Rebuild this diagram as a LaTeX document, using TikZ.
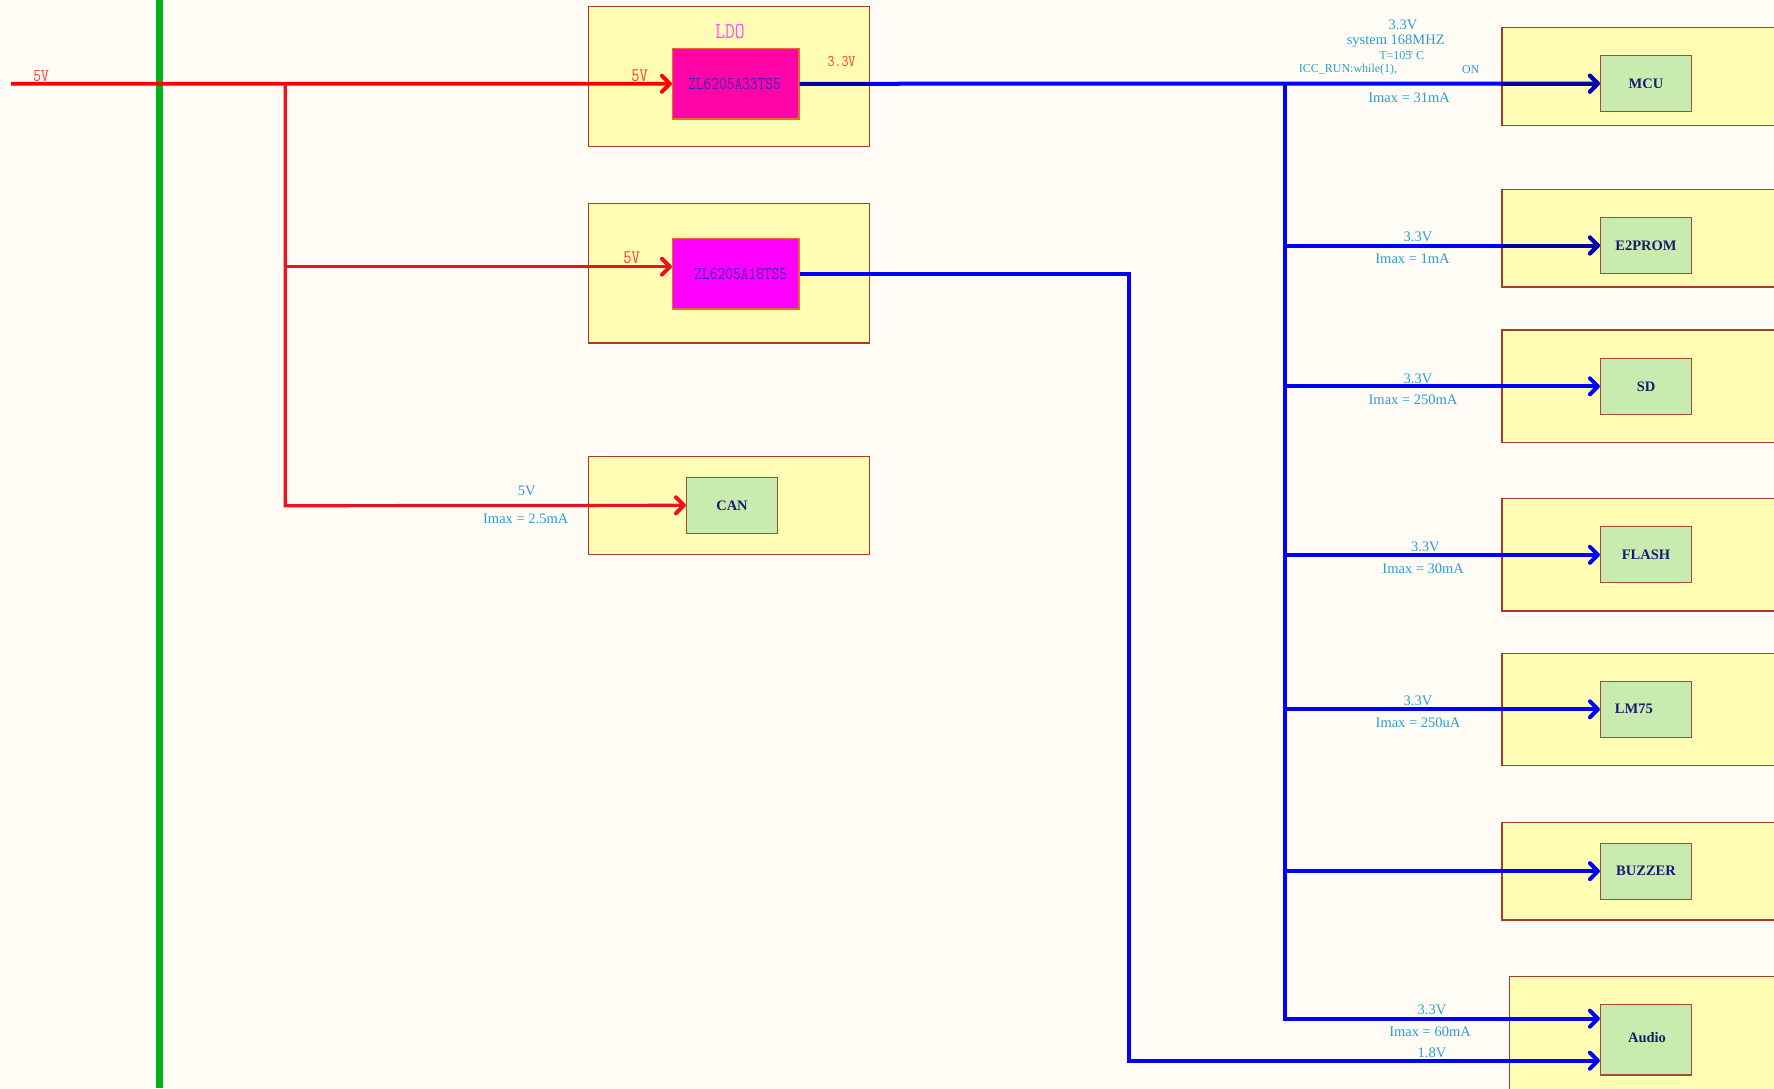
\documentclass[tikz,border=0pt]{standalone}
\usepackage{fontspec}
\usepackage{graphicx}
\setmainfont{Liberation Serif}
\usetikzlibrary{arrows.meta}
\definecolor{bgc}{HTML}{FFFCF6}
\definecolor{yel}{HTML}{FFFCB4}
\definecolor{ybord}{HTML}{A83A30}
\definecolor{grn}{HTML}{C8EBB0}
\definecolor{gbord}{HTML}{A84A3A}
\definecolor{navytxt}{HTML}{1A1A70}
\definecolor{lblue}{HTML}{2A9ED0}
\definecolor{redl}{HTML}{FF0000}
\definecolor{redb}{HTML}{EE1122}
\definecolor{redt}{HTML}{FF3A3A}
\definecolor{bline}{HTML}{0000FF}
\definecolor{bdark}{HTML}{0000A8}
\definecolor{magA}{HTML}{FF05A8}
\definecolor{magB}{HTML}{FF00FF}
\definecolor{obord}{HTML}{E86A30}
\definecolor{zltxt}{HTML}{4A18B8}
\definecolor{ldotxt}{HTML}{FF50FF}
\definecolor{gline}{HTML}{00B418}
\newcommand{\cnf}[2]{\scalebox{1}[1.2]{\fontsize{#1}{#1}\ttfamily #2}}
\begin{document}
\begin{tikzpicture}[x=1pt,y=-1pt,
  outerbox/.style={draw=ybord,fill=yel,line width=1.2pt,minimum width=#1,inner sep=0pt},
  innerbox/.style={draw=gbord,fill=grn,line width=1.2pt,minimum width=91pt,minimum height=56pt,inner sep=0pt,
     font=\fontsize{14.5}{16}\selectfont\bfseries,text=navytxt},
  ldobox/.style={draw=obord,line width=1.2pt,minimum width=126.5pt,minimum height=70.5pt,inner sep=0pt,text=zltxt},
  lbl/.style={text=lblue,inner sep=0pt,font=\fontsize{14.5}{16}\selectfont},
  lbls/.style={text=lblue,inner sep=0pt,font=\fontsize{12}{13}\selectfont},
  rlbl/.style={text=redt,inner sep=0pt},
  redw/.style={draw=redl,line width=3.8pt},
  redbr/.style={draw=redb,line width=3.2pt},
  bluew/.style={draw=bline,line width=4pt},
  arr/.style={-{Straight Barb[length=8pt,width=16pt,line width=4pt,round]}},
]
\useasboundingbox (0,0) rectangle (1774,1088);
\fill[bgc] (0,0) rectangle (1774,1088);

% green rail
\coordinate (gtop) at (159.5,0);
\coordinate (gbot) at (159.5,1088);

% outer boxes
\node[outerbox=281pt,minimum height=140pt] (ldoA) at (729,76.7) {};
\node[outerbox=281pt,minimum height=139.5pt] (ldoB) at (729,273.3) {};
\node[outerbox=281pt,minimum height=98pt] (canO) at (728.8,505.3) {};
\node[outerbox=280pt,minimum height=98pt] (mcuO) at (1642,76.7) {};
\node[outerbox=280pt,minimum height=97.7pt] (e2O) at (1642,238.2) {};
\node[outerbox=280pt,minimum height=112.3pt] (sdO) at (1642,386.2) {};
\node[outerbox=280pt,minimum height=112.3pt] (flO) at (1642,554.9) {};
\node[outerbox=280pt,minimum height=112pt] (lmO) at (1642,709.3) {};
\node[outerbox=280pt,minimum height=97.7pt] (bzO) at (1642,871.2) {};
\node[outerbox=280pt,minimum height=120pt] (auO) at (1649.6,1036.7) {};

% LDO chips
\node[ldobox,fill=magA] (zlA) at (735.75,83.75) {};
\node[ldobox,fill=magB,minimum height=70.7pt] (zlB) at (735.75,273.65) {};
\node[text=zltxt,inner sep=0pt] (zlAt) at (734.5,83.5) {\cnf{15}{ZL6205A33TS5}};
\node[text=zltxt,inner sep=0pt] (zlBt) at (740.8,274) {\cnf{15}{ZL6205A18TS5}};
\node[text=ldotxt,inner sep=0pt] (ldolbl) at (730,32) {\cnf{19}{LDO}};

% inner green boxes
\node[innerbox] (can) at (732,505.3) {CAN};
\node[innerbox] (mcu) at (1646,83.7) {MCU};
\node[innerbox] (e2prom) at (1646,245.5) {E2PROM};
\node[innerbox] (sd) at (1646,386.3) {SD};
\node[innerbox] (flash) at (1646,554.8) {FLASH};
\node[innerbox] (lm75) at (1646,709.3) {};
\node[text=navytxt,inner sep=0pt,font=\fontsize{14.5}{16}\selectfont\bfseries] (lm75t) at (1633.8,709.3) {LM75};
\node[innerbox] (buzzer) at (1646,871.2) {BUZZER};
\node[innerbox,minimum height=70.3pt] (audio) at (1646,1039.8) {};
\node[text=navytxt,inner sep=0pt,font=\fontsize{14.5}{16}\selectfont\bfseries] (audiot) at (1647,1038) {Audio};

% coordinates
\coordinate (vin) at (11,83.7);
\coordinate (rbtop) at (285.3,83.7);
\coordinate (rbmid) at (285.3,266.7);
\coordinate (rbbot) at (285.3,505.7);
\coordinate (zlBin) at (zlB.west |- rbmid);
\coordinate (busTop) at (1284.5,83.7);
\coordinate (bE2) at (1284.5,245.5);
\coordinate (bSD) at (1284.5,386.3);
\coordinate (bFL) at (1284.5,554.8);
\coordinate (bLM) at (1284.5,709.3);
\coordinate (bBZ) at (1284.5,871.2);
\coordinate (bAU) at (1284.5,1018.7);
\coordinate (auIn33) at (audio.west |- bAU);
\coordinate (v18a) at (1129,274);
\coordinate (v18b) at (1129,1060.7);
\coordinate (auIn18) at (audio.west |- v18b);
\coordinate (zlAout) at (zlA.east);
\coordinate (ldoAedge) at (ldoA.east |- zlA.east);
\coordinate (mcuOedge) at (mcuO.west |- mcu.west);
\coordinate (e2Oedge) at (e2O.west |- e2prom.west);

% green rail
\draw[draw=gline,line width=6.8pt] (gtop) -- (gbot);

% red wiring
\draw[redw,arr] (vin) -- (zlA.west);
\draw[redbr,arr] (rbtop) -- (rbbot) -- (can.west);
\draw[redbr,arr] (rbmid) -- (zlBin);

% blue wiring
\draw[bluew,arr] (zlAout) -- (mcu.west);
\draw[draw=bdark,line width=4pt] (zlAout) -- (ldoAedge);
\draw[draw=bdark,line width=4pt,arr] (mcuOedge) -- (mcu.west);
\draw[bluew,arr] (busTop) -- (bAU) -- (auIn33);
\draw[bluew,arr] (bE2) -- (e2prom.west);
\draw[draw=bdark,line width=4pt,arr] (e2Oedge) -- (e2prom.west);
\draw[bluew,arr] (bSD) -- (sd.west);
\draw[bluew,arr] (bFL) -- (flash.west);
\draw[bluew,arr] (bLM) -- (lm75.west);
\draw[bluew,arr] (bBZ) -- (buzzer.west);
\draw[bluew,arr] (zlB.east |- v18a) -- (v18a) -- (v18b) -- (auIn18);

% red labels
\node[rlbl] (l5a) at (41,76) {\cnf{15}{5V}};
\node[rlbl] (l5b) at (639.5,76) {\cnf{16}{5V}};
\node[rlbl] (l33r) at (841.5,62) {\cnf{13.5}{3.3V}};
\node[rlbl] (l5c) at (631.5,257.7) {\cnf{16}{5V}};

% blue labels
\node[lbl] (c5v) at (526.7,490.7) {5V};
\node[lbl] (cim) at (525.7,518.3) {Imax = 2.5mA};
\node[lbl] (m33) at (1403,25) {3.3V};
\node[lbl] (msys) at (1395.7,41.7) {system 168MHZ};
\node[lbls] (mT) at (1401.7,55.7) {T=105\kern-0.25em°\ C};
\node[lbls] (micc) at (1348,70) {ICC\_RUN:while(1),};
\node[lbls] (mon) at (1470.7,70) {ON};
\node[lbl] (mim) at (1409,97.3) {Imax = 31mA};
\node[lbl] (e33) at (1418,237.3) {3.3V};
\node[lbl] (eim) at (1412.5,258.3) {Imax = 1mA};
\node[lbl] (s33) at (1418,378.3) {3.3V};
\node[lbl] (sim) at (1413,399.3) {Imax = 250mA};
\node[lbl] (f33) at (1425.4,546.7) {3.3V};
\node[lbl] (fim) at (1423.2,568.3) {Imax = 30mA};
\node[lbl] (lm33) at (1418,700.7) {3.3V};
\node[lbl] (lmim) at (1418,722.3) {Imax = 250uA};
\node[lbl] (a33) at (1432,1009.3) {3.3V};
\node[lbl] (aim) at (1430,1031.7) {Imax = 60mA};
\node[lbl] (a18) at (1432,1052.7) {1.8V};
\end{tikzpicture}
\end{document}
